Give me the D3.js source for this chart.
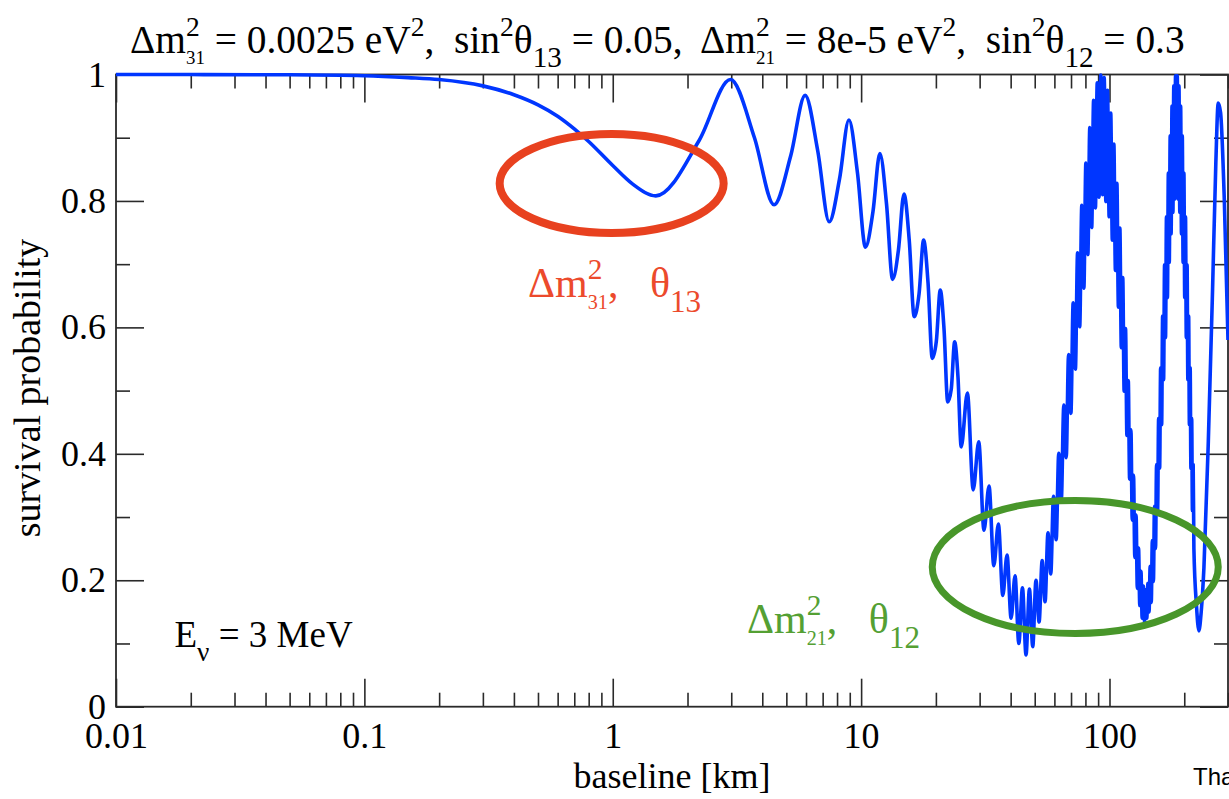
<!DOCTYPE html>
<html>
<head>
<meta charset="utf-8">
<script src="https://d3js.org/d3.v7.min.js"></script>
<style>
  html, body { margin: 0; padding: 0; background: #fff; }
  svg { display: block; }
</style>
</head>
<body>
<div id="chart"></div>
<script>
// survival probability, baseline in km
const approachKm = [0.01, 0.02, 0.05, 0.1, 0.15, 0.2, 0.3, 0.4, 0.5, 0.6, 0.7, 0.8, 1.0, 1.2];
const approachP = [1.0, 0.9999, 0.9995, 0.998, 0.995, 0.992, 0.982, 0.968, 0.952, 0.934, 0.914, 0.894, 0.856, 0.827];

const wiggleKm = [1.49, 2.23, 2.98, 3.72, 4.46, 5.21, 5.95, 6.69, 7.44, 8.18, 8.93, 9.67,
  10.41, 11.16, 11.90, 12.65, 13.39, 14.13, 14.88, 15.62, 16.36, 17.11, 17.85, 18.60,
  19.34, 20.08, 20.83, 21.57, 22.32, 23.06, 23.80, 24.55];
const wiggleP = [0.808, 0.896, 0.992, 0.900, 0.794, 0.872, 0.967, 0.879, 0.767, 0.834, 0.928, 0.844,
  0.727, 0.783, 0.875, 0.796, 0.676, 0.722, 0.811, 0.738, 0.617, 0.653, 0.738, 0.670,
  0.551, 0.578, 0.659, 0.597, 0.482, 0.502, 0.577, 0.521];

const denseKm = [25.29, 26.78, 28.27, 29.75, 31.24, 32.73, 34.22, 35.70, 37.19, 38.68,
  40.17, 41.66, 43.14, 44.63, 46.12, 47.61, 49.09, 50.58, 52.07, 53.56,
  55.04, 56.53, 58.02, 59.51, 61.00, 62.48, 63.97, 65.46, 66.95, 68.43,
  69.92, 71.41, 72.90, 74.39, 75.87, 77.36, 78.85, 80.34, 81.82, 83.31,
  84.80, 86.29, 87.77, 89.26, 90.75, 92.24, 93.73, 95.21, 96.70, 98.19,
  99.68, 101.16, 102.65, 104.14, 105.63, 107.11, 108.60, 110.09, 111.58, 113.07,
  114.55, 116.04, 117.53, 119.02, 120.50, 121.99, 123.48, 124.97, 126.45, 127.94,
  129.43, 130.92, 132.41, 133.89, 135.38, 136.87, 138.36, 139.84, 141.33, 142.82,
  144.31, 145.79, 147.28, 148.77, 150.26, 151.75, 153.23, 154.72, 156.21, 157.70,
  159.18, 160.67, 162.16, 163.65, 165.13, 166.62, 168.11, 169.60, 171.09, 172.57,
  174.06, 175.55, 177.04, 178.52, 180.01, 181.50, 182.99, 184.47, 185.96, 187.45,
  188.94, 190.43, 191.91, 193.40, 194.89, 196.38, 197.86, 199.35, 200.84, 202.33,
  203.81, 205.30, 206.79, 208.28, 209.77, 211.25, 212.74, 214.23, 215.72, 217.20,
  218.69];
const denseP = [0.411, 0.496, 0.343, 0.419, 0.279, 0.349, 0.223, 0.289, 0.176, 0.240,
  0.140, 0.207, 0.100, 0.188, 0.082, 0.186, 0.095, 0.200, 0.134, 0.231,
  0.166, 0.275, 0.210, 0.333, 0.264, 0.401, 0.327, 0.477, 0.394, 0.557,
  0.464, 0.639, 0.534, 0.718, 0.601, 0.793, 0.662, 0.860, 0.715, 0.916,
  0.758, 0.959, 0.789, 0.987, 0.806, 0.999, 0.810, 0.995, 0.799, 0.975,
  0.775, 0.939, 0.738, 0.890, 0.690, 0.828, 0.632, 0.757, 0.568, 0.679,
  0.499, 0.598, 0.429, 0.516, 0.360, 0.438, 0.295, 0.366, 0.236, 0.303,
  0.187, 0.251, 0.160, 0.214, 0.140, 0.191, 0.135, 0.185, 0.140, 0.195,
  0.150, 0.222, 0.165, 0.263, 0.198, 0.317, 0.250, 0.383, 0.310, 0.456,
  0.377, 0.536, 0.446, 0.618, 0.517, 0.699, 0.584, 0.775, 0.647, 0.844,
  0.703, 0.903, 0.748, 0.950, 0.782, 0.982, 0.803, 0.998, 0.810, 0.998,
  0.803, 0.982, 0.782, 0.950, 0.748, 0.903, 0.703, 0.844, 0.647, 0.775,
  0.584, 0.699, 0.517, 0.618, 0.446, 0.536, 0.377, 0.456, 0.310, 0.383,
  0.250];

const tailKm = [224, 229, 234, 240, 250, 260, 268, 274, 280, 290, 300];
const tailP = [0.16, 0.12, 0.15, 0.22, 0.42, 0.66, 0.86, 0.955, 0.94, 0.80, 0.58];

const xMajorTicks = [0.01, 0.1, 1, 10, 100];
const xTickLabels = ['0.01', '0.1', '1', '10', '100'];
const yMajorTicks = [0, 0.2, 0.4, 0.6, 0.8, 1];
const yTickLabels = ['0', '0.2', '0.4', '0.6', '0.8', '1'];

const W = 1229, H = 799;
const serif = '"Liberation Serif", "Times New Roman", Times, serif';

const svg = d3.select('#chart').append('svg')
  .attr('width', W)
  .attr('height', H);

svg.append('rect').attr('width', W).attr('height', H).attr('fill', '#fff');

const x = d3.scaleLog().domain([0.01, 300]).range([116, 1228]);
const y = d3.scaleLinear().domain([0, 1]).range([706.7, 74.5]);

const minorX = [];
[0.01, 0.1, 1, 10, 100].forEach((dec) => {
  for (let m = 2; m <= 9; m++) {
    if (dec * m <= 300) minorX.push(dec * m);
  }
});
const minorY = [0.1, 0.3, 0.5, 0.7, 0.9];

function styleAxis(g, withLabels) {
  g.select('.domain').remove();
  g.selectAll('.tick line').attr('stroke', '#2a2a2a').attr('stroke-width', 1.6);
  if (withLabels) {
    g.selectAll('.tick text')
      .style('font-family', serif)
      .style('font-size', '36px')
      .attr('fill', '#000');
  }
}

// bottom
svg.append('g')
  .attr('transform', `translate(0,${y(0)})`)
  .call(d3.axisBottom(x).tickValues(xMajorTicks).tickSize(-28).tickPadding(16)
    .tickFormat((d, i) => xTickLabels[i]))
  .call((g) => styleAxis(g, true));
svg.append('g')
  .attr('transform', `translate(0,${y(0)})`)
  .call(d3.axisBottom(x).tickValues(minorX).tickSize(-14).tickFormat(''))
  .call((g) => styleAxis(g, false));

// top
svg.append('g')
  .attr('transform', `translate(0,${y(1)})`)
  .call(d3.axisTop(x).tickValues(xMajorTicks).tickSize(-28).tickFormat(''))
  .call((g) => styleAxis(g, false));
svg.append('g')
  .attr('transform', `translate(0,${y(1)})`)
  .call(d3.axisTop(x).tickValues(minorX).tickSize(-14).tickFormat(''))
  .call((g) => styleAxis(g, false));

// left
svg.append('g')
  .attr('transform', `translate(${x(0.01)},0)`)
  .call(d3.axisLeft(y).tickValues(yMajorTicks).tickSize(-28).tickPadding(10)
    .tickFormat((d, i) => yTickLabels[i]))
  .call((g) => styleAxis(g, true));
svg.append('g')
  .attr('transform', `translate(${x(0.01)},0)`)
  .call(d3.axisLeft(y).tickValues(minorY).tickSize(-14).tickFormat(''))
  .call((g) => styleAxis(g, false));

// right
svg.append('g')
  .attr('transform', `translate(${x(300)},0)`)
  .call(d3.axisRight(y).tickValues(yMajorTicks).tickSize(-28).tickFormat(''))
  .call((g) => styleAxis(g, false));
svg.append('g')
  .attr('transform', `translate(${x(300)},0)`)
  .call(d3.axisRight(y).tickValues(minorY).tickSize(-14).tickFormat(''))
  .call((g) => styleAxis(g, false));

// frame
svg.append('rect')
  .attr('x', x(0.01))
  .attr('y', y(1))
  .attr('width', x(300) - x(0.01))
  .attr('height', y(0) - y(1))
  .attr('fill', 'none')
  .attr('stroke', '#2a2a2a')
  .attr('stroke-width', 1.8);

// curve
const series = [];
approachKm.forEach((k, i) => series.push([k, approachP[i]]));
wiggleKm.forEach((k, i) => series.push([k, wiggleP[i]]));
denseKm.forEach((k, i) => series.push([k, denseP[i]]));
tailKm.forEach((k, i) => series.push([k, tailP[i]]));

const line = d3.line()
  .x((d) => x(d[0]))
  .y((d) => y(d[1]))
  .curve(d3.curveMonotoneX);

svg.append('path')
  .datum(series)
  .attr('d', line)
  .attr('fill', 'none')
  .attr('stroke', '#0036ff')
  .attr('stroke-width', 3.6)
  .attr('stroke-linejoin', 'round');

// rich text with super/subscripts
function richText(parent, px, py, size, fill, parts) {
  const t = parent.append('text')
    .attr('x', px)
    .attr('y', py)
    .attr('font-family', serif)
    .attr('font-size', size)
    .style('white-space', 'pre')
    .attr('fill', fill);
  let lastW = 0;
  parts.forEach(([str, kind]) => {
    const sp = t.append('tspan').attr('font-family', serif).text(str);
    if (kind === 'sup') {
      sp.attr('y', py - size * 0.42).attr('font-size', size * 0.7);
    } else if (kind === 'sub') {
      sp.attr('y', py + size * 0.36).attr('font-size', size * 0.74);
    } else if (kind === 'stack') {
      sp.attr('y', py + size * 0.28).attr('dx', -lastW).attr('font-size', size * 0.48);
    } else {
      sp.attr('y', py).attr('font-size', size);
    }
    lastW = sp.node().getComputedTextLength();
  });
  return t;
}

// title, scaled so it spans the same width as in the plot
const titleParts = [
  ['\u0394m'], ['2', 'sup'], ['31', 'stack'], [' = 0.0025 eV'], ['2', 'sup'],
  [',  sin'], ['2', 'sup'], ['\u03b8'], ['13', 'sub'], [' = 0.05,  \u0394m'],
  ['2', 'sup'], ['21', 'stack'], [' = 8e-5 eV'], ['2', 'sup'], [',  sin'],
  ['2', 'sup'], ['\u03b8'], ['12', 'sub'], [' = 0.3']
];
let title = richText(svg, 130, 53, 38, '#000', titleParts);
const tw = title.node().getBBox().width;
title.remove();
title = richText(svg, 130, 53, 38 * 1055 / tw, '#000', titleParts);

// annotations
svg.append('ellipse')
  .attr('cx', x(0.99))
  .attr('cy', y(0.8276))
  .attr('rx', 112)
  .attr('ry', 49.5)
  .attr('fill', 'none')
  .attr('stroke', '#e8411f')
  .attr('stroke-width', 8);

richText(svg, x(0.456), y(0.648), 42, '#ec4a2c', [
  ['\u0394m'], ['2', 'sup'], ['31', 'stack'], [',   \u03b8'], ['13', 'sub']
]);

svg.append('ellipse')
  .attr('cx', x(72.8))
  .attr('cy', y(0.221))
  .attr('rx', 143)
  .attr('ry', 66.5)
  .attr('fill', 'none')
  .attr('stroke', '#48962a')
  .attr('stroke-width', 7);

richText(svg, x(3.47), y(0.1166), 42, '#54a033', [
  ['\u0394m'], ['2', 'sup'], ['21', 'stack'], [',   \u03b8'], ['12', 'sub']
]);

richText(svg, x(0.0172), y(0.094), 37, '#000', [
  ['E'], ['\u03bd', 'sub'], [' = 3 MeV']
]);

// axis titles
svg.append('text')
  .attr('x', 672)
  .attr('y', 788)
  .attr('text-anchor', 'middle')
  .attr('font-family', serif)
  .attr('font-size', 36)
  .attr('fill', '#000')
  .text('baseline [km]');

svg.append('text')
  .attr('transform', 'translate(40,388) rotate(-90)')
  .attr('text-anchor', 'middle')
  .attr('font-family', serif)
  .attr('font-size', 38)
  .attr('fill', '#000')
  .text('survival probability');

svg.append('text')
  .attr('x', 1193)
  .attr('y', 785)
  .attr('font-family', '"Liberation Sans", Arial, sans-serif')
  .attr('font-size', 24)
  .attr('fill', '#000')
  .text('Tha');
</script>
</body>
</html>
